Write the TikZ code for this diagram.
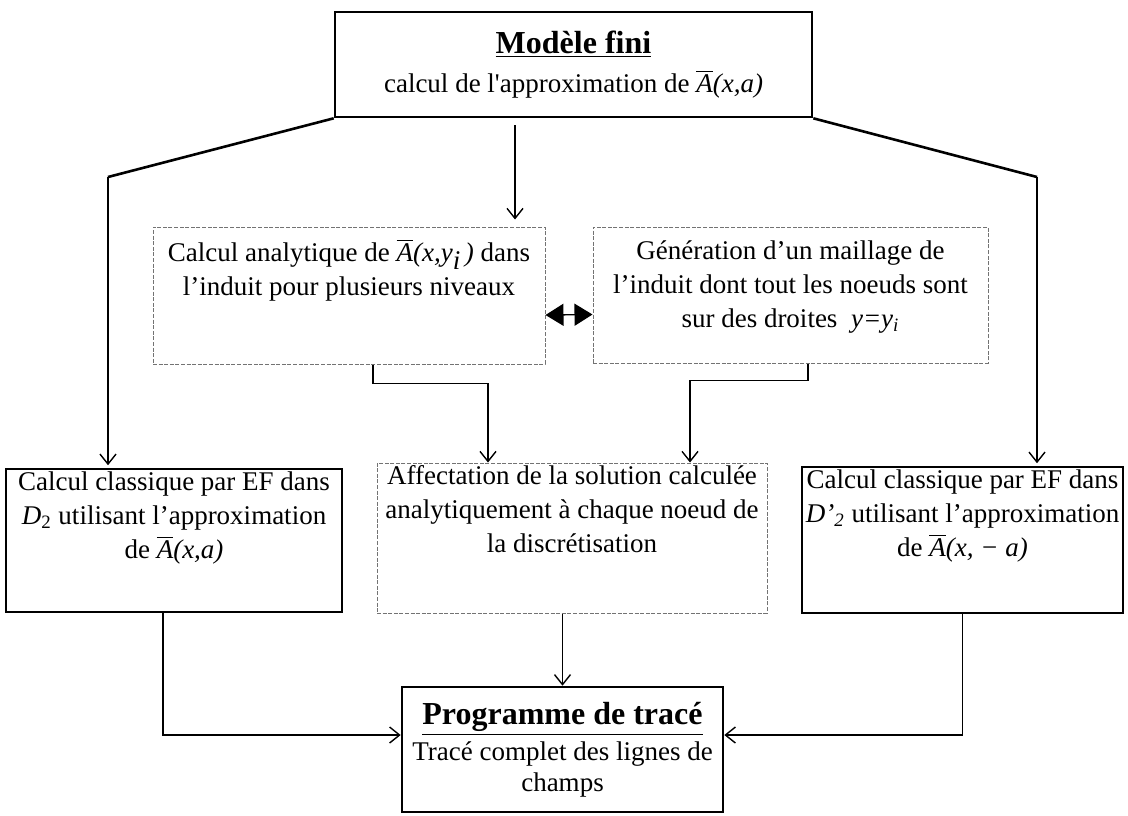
\documentclass[tikz,border=0pt]{standalone}
\usepackage{fontspec}
\setmainfont{Liberation Serif}
\usepackage{tikz}
\usetikzlibrary{arrows.meta,positioning,calc}

\newcommand{\Abar}{$\overline{\mbox{\itshape A}}$}
\newcommand{\inbox}[4]{\parbox[c][#1][t]{#2}{\centering\rule{0pt}{#3}#4}}

\begin{document}
\begin{tikzpicture}[x=0.5pt, y=-0.5pt,
  box/.style={draw, inner sep=0pt, font=\fontsize{13.5}{17}\selectfont},
  mainbox/.style={draw, line width=1.3pt, inner sep=0pt, align=center, font=\fontsize{13.5}{15.5}\selectfont},
  sidebox/.style={box, line width=0.8pt},
  softbox/.style={box, draw=black!55, line width=0.5pt, dash pattern=on 2pt off 0.8pt},
  arr/.style={-{Straight Barb[length=5pt,width=8pt]}, line width=0.7pt},
  outer/.style={line width=1.3pt},
  dbl/.style={{Triangle[length=9pt,width=11pt]}-{Triangle[length=9pt,width=11pt]}, line width=0.7pt}
]
\useasboundingbox (0,0) rectangle (1128,815);
\node[mainbox, minimum width=238.5pt, minimum height=52.5pt] (mod) at (573.5,64.5)
  {{\fontsize{16}{18}\selectfont\bfseries\underline{Modèle fini}}\\[4pt]
   calcul de l\textquotesingle approximation de \Abar\textit{(x,a)}};
\node[softbox] (ana) at (349,295.5)
  {\inbox{68.5pt}{196pt}{17pt}{Calcul analytique de \Abar\textit{(x,y}\raisebox{-4pt}{\textit{i}}\textit{\,)} dans\\ l’induit pour plusieurs niveaux}};
\node[softbox] (mesh) at (790.5,295)
  {\inbox{68pt}{197.5pt}{16pt}{Génération d’un maillage de\\ l’induit dont tout les noeuds sont\\ sur des droites \ \textit{y=y}\textsubscript{\itshape i}}};
\node[sidebox] (efl) at (174,540.5)
  {\inbox{71.5pt}{168pt}{10.5pt}{Calcul classique par EF dans\\ \textit{D}\textsubscript{2} utilisant l’approximation\\ de \Abar\textit{(x,a)}}};
\node[softbox] (aff) at (572,538)
  {\inbox{75pt}{195pt}{10.5pt}{Affectation de la solution calculée\\ analytiquement à chaque noeud de\\ la discrétisation}};
\node[sidebox] (efr) at (962.5,540)
  {\inbox{73pt}{160.5pt}{10.5pt}{Calcul classique par EF dans\\ \textit{D’}\textsubscript{\itshape 2} utilisant l’approximation\\ de \Abar\textit{(x, − a)}}};
\node[mainbox, minimum width=160.5pt, minimum height=62.5pt] (prog) at (562.5,749.5)
  {{\fontsize{16}{18}\selectfont\bfseries\underline{Programme de tracé}}\\[2.5pt] Tracé complet des lignes de\\ champs};

\coordinate (lk) at (108,177);
\coordinate (rk) at (1037,177);
\coordinate (mc) at (515,117);

\draw[outer] (mod.south west) -- (lk);
\draw[arr, shorten >=1.5pt] (lk) -- (lk |- efl.north);
\draw[outer] (mod.south east) -- (rk);
\draw[arr, shorten >=1.5pt] (rk) -- (rk |- efr.north);
\draw[arr, shorten <=4pt, shorten >=3.5pt] (mc) -- (mc |- ana.north);
\draw[dbl] ([yshift=-9.75pt]ana.east) -- ([yshift=-9.75pt]mesh.west);
\draw[arr] ([xshift=12pt]ana.south) -- ++(0,19) -| ([xshift=-42pt]aff.north);
\draw[arr] ([xshift=8.75pt]mesh.south) -- ++(0,17) -| ([xshift=59pt]aff.north);
\draw[arr] (aff.south -| prog.north) -- (prog.north);
\draw[arr] ([xshift=-5.5pt]efl.south) |- ([yshift=7.25pt]prog.west);
\draw[arr] (efr.south) |- ([yshift=7.25pt]prog.east);
\end{tikzpicture}
\end{document}
